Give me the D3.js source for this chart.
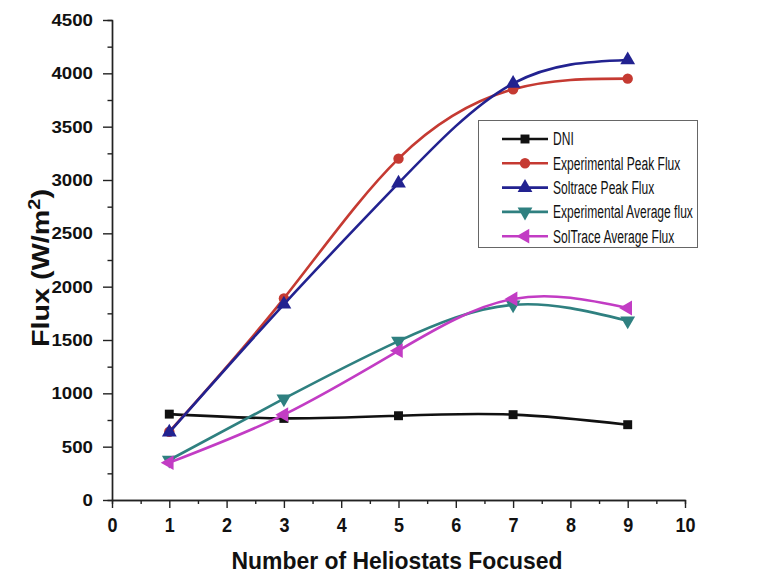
<!DOCTYPE html>
<html>
<head>
<meta charset="utf-8">
<script src="https://cdn.jsdelivr.net/npm/d3@7"></script>
<style>
    body { margin: 0; background: #fff; }
    #chart { width: 783px; height: 574px; }
    text { font-family: Arial, "Liberation Sans", sans-serif; }
</style>
</head>
<body>
<div id="chart"></div>
<script>
// values
const heliostats = [1, 3, 5, 7, 9];
const dni = [805, 765, 790, 800, 706];
const expPeak = [640, 1890, 3200, 3850, 3950];
const solPeak = [635, 1835, 2970, 3905, 4125];
const expAvg = [375, 950, 1490, 1830, 1680];
const solAvg = [350, 800, 1400, 1885, 1800];
const seriesNames = ["DNI", "Experimental Peak Flux", "Soltrace Peak Flux", "Experimental Average flux", "SolTrace Average Flux"];
const xTicks = [0, 1, 2, 3, 4, 5, 6, 7, 8, 9, 10];
const yTicks = [0, 500, 1000, 1500, 2000, 2500, 3000, 3500, 4000, 4500];

// styles
const colors = ["#111111", "#c53a32", "#222290", "#2f8080", "#c23cc4"];
const symbols = ["square", "circle", "up", "down", "left"];

// stretch or squeeze a text to k times its natural length
function fitText(sel, k) {
    sel.each(function () {
        let len = this.getComputedTextLength();
        d3.select(this).attr("textLength", len * k).attr("lengthAdjust", "spacingAndGlyphs");
    });
}

class FluxChart {
    constructor(parentElement, series) {
        this.parentElement = parentElement;
        this.series = series;
        this.initVis();
    }

    initVis() {
        let vis = this;

        vis.margin = {top: 20, right: 98, bottom: 74, left: 112};
        vis.width = 783 - vis.margin.left - vis.margin.right;
        vis.height = 574 - vis.margin.top - vis.margin.bottom;

        vis.root = d3.select(vis.parentElement).append("svg")
            .attr("width", 783)
            .attr("height", 574);
        vis.svg = vis.root.append("g")
            .attr("transform", `translate(${vis.margin.left}, ${vis.margin.top})`);

        vis.x = d3.scaleLinear().domain([0, 10]).range([0, vis.width]);
        vis.y = d3.scaleLinear().domain([0, 4500]).range([vis.height, 0]);

        // minor ticks first, then major ticks with labels
        vis.svg.append("g")
            .attr("transform", `translate(0, ${vis.height})`)
            .call(d3.axisBottom(vis.x).tickValues(d3.range(0.5, 10, 1)).tickSize(4).tickFormat(""));
        vis.svg.append("g")
            .call(d3.axisLeft(vis.y).tickValues(d3.range(250, 4500, 500)).tickSize(4.5).tickFormat(""));

        vis.xAxis = vis.svg.append("g")
            .attr("transform", `translate(0, ${vis.height})`)
            .call(d3.axisBottom(vis.x).tickValues(xTicks).tickSize(8).tickSizeOuter(0).tickPadding(10).tickFormat(d3.format("d")));
        vis.xAxis.selectAll("text")
            .attr("font-size", 20)
            .attr("font-weight", "bold")
            .attr("fill", "#111")
            .call(fitText, 0.9);

        vis.yAxis = vis.svg.append("g")
            .call(d3.axisLeft(vis.y).tickValues(yTicks).tickSize(9).tickSizeOuter(0).tickPadding(10).tickFormat(d3.format("d")));
        vis.yAxis.selectAll("text")
            .attr("font-size", 17)
            .attr("font-weight", "bold")
            .attr("fill", "#111")
            .call(fitText, 1.1);

        vis.svg.selectAll(".domain, .tick line")
            .attr("stroke", "#222")
            .attr("stroke-width", 1.4);

        // axis titles
        vis.root.append("text")
            .attr("x", 397)
            .attr("y", 569)
            .attr("text-anchor", "middle")
            .attr("font-size", 24)
            .attr("font-weight", "bold")
            .attr("fill", "#111")
            .attr("textLength", 331)
            .attr("lengthAdjust", "spacingAndGlyphs")
            .text("Number of Heliostats Focused");

        let yt = vis.root.append("text")
            .attr("transform", "translate(49, 268) rotate(-90) scale(1.25, 1)")
            .attr("text-anchor", "middle")
            .attr("font-size", 23)
            .attr("font-weight", "bold")
            .attr("fill", "#111");
        yt.append("tspan").text("Flux (W/m");
        yt.append("tspan").attr("font-size", 16).attr("dy", -9).text("2");
        yt.append("tspan").attr("dy", 9).text(")");

        // lines and markers
        vis.line = d3.line()
            .x((d) => vis.x(d.x))
            .y((d) => vis.y(d.y))
            .curve(d3.curveNatural);

        vis.series.forEach(function (s, i) {
            let pts = heliostats.map((h, j) => ({x: h, y: s.values[j]}));
            vis.svg.append("path")
                .datum(pts)
                .attr("d", vis.line)
                .attr("fill", "none")
                .attr("stroke", colors[i])
                .attr("stroke-width", 2.6);
            vis.svg.selectAll(null)
                .data(pts)
                .enter()
                .append("path")
                .attr("d", vis.marker(symbols[i]))
                .attr("transform", (d) => `translate(${vis.x(d.x)}, ${vis.y(d.y)}) rotate(${vis.angle(symbols[i])})`)
                .attr("fill", colors[i]);
        });

        vis.drawLegend();
    }

    marker(kind) {
        if (kind === "square") return d3.symbol(d3.symbolSquare, 80)();
        if (kind === "circle") return d3.symbol(d3.symbolCircle, 85)();
        return d3.symbol(d3.symbolTriangle, 95)();
    }

    angle(kind) {
        if (kind === "down") return 180;
        if (kind === "left") return -90;
        return 0;
    }

    drawLegend() {
        let vis = this;
        let lg = vis.root.append("g");

        lg.append("rect")
            .attr("x", 478.5)
            .attr("y", 120.5)
            .attr("width", 219)
            .attr("height", 127)
            .attr("fill", "#fff")
            .attr("stroke", "#666")
            .attr("stroke-width", 1);

        vis.series.forEach(function (s, i) {
            let cy = 139 + i * 24.3;
            lg.append("line")
                .attr("x1", 502).attr("x2", 548)
                .attr("y1", cy).attr("y2", cy)
                .attr("stroke", colors[i])
                .attr("stroke-width", 2.6);
            lg.append("path")
                .attr("d", vis.marker(symbols[i]))
                .attr("transform", `translate(525, ${cy}) rotate(${vis.angle(symbols[i])})`)
                .attr("fill", colors[i]);
            lg.append("text")
                .attr("x", 553)
                .attr("y", cy)
                .attr("dy", "0.36em")
                .attr("font-size", 18)
                .attr("fill", "#111")
                .text(s.name)
                .call(fitText, 0.67);
        });
    }
}

const allValues = [dni, expPeak, solPeak, expAvg, solAvg];
new FluxChart(document.getElementById("chart"),
    seriesNames.map((name, i) => ({name: name, values: allValues[i]})));
</script>
</body>
</html>
